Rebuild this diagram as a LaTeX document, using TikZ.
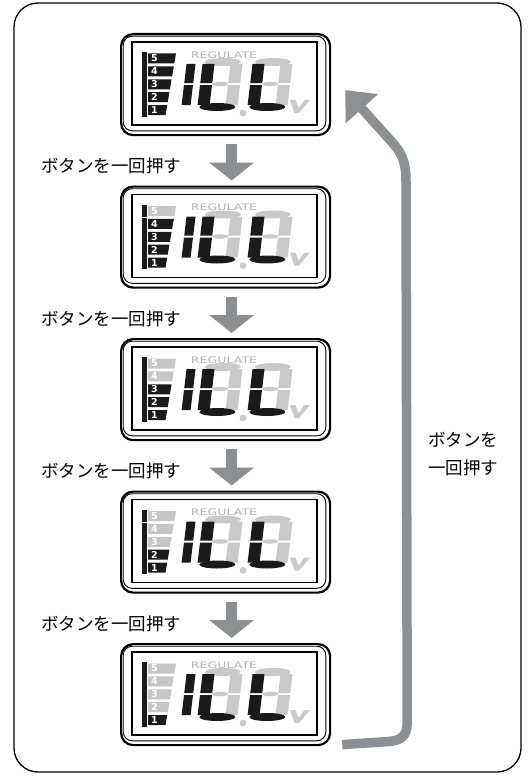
\documentclass[tikz,border=0pt]{standalone}
\usepackage{fontspec}
\setmainfont{DejaVu Sans}
\newfontfamily\jp{Noto Sans CJK JP}
\usetikzlibrary{arrows.meta,calc}
\definecolor{arrgray}{HTML}{8E8F93}
\definecolor{segoff}{HTML}{C9C9C9}
\definecolor{segon}{HTML}{1A1A1A}
\definecolor{boxoff}{HTML}{C6C6C6}
\definecolor{reggray}{HTML}{B3B3B3}
\tikzset{
  lcdframe/.style={draw, line width=2.2pt, rounded corners=12pt, minimum width=209pt,
    minimum height=101pt, inner sep=0pt, anchor=north west},
  stepword/.style={font=\jp\fontsize{17.5}{28}\selectfont, inner sep=0pt},
  downarr/.style={arrgray, line width=11pt, -{Triangle[width=44pt,length=18pt]},
    shorten <=8pt, shorten >=5pt},
  retarr/.style={arrgray, line width=9.5pt, -{Triangle[width=42pt,length=25pt]}},
  lvlnum/.style={font=\bfseries\fontsize{9.5}{10}\selectfont, text=white, inner sep=0pt},
  regtext/.style={font=\fontsize{9}{9}\selectfont, text=reggray, inner sep=0pt},
}
\newcommand\lcdunit[4]{%
  \node[lcdframe] (#1) at (#2,#3) {};
  \begin{scope}[shift={(#2,#3)}]
    \draw[line width=0.9pt, rounded corners=9pt] (3.2,3.2) rectangle (205.8,97.8);
    \draw[line width=1.3pt] (12,9) rectangle (197,92);
    \foreach \k in {1,...,5}{
      \pgfmathsetmacro\t{20.5+(5-\k)*12.9}
      \pgfmathsetmacro\b{\t+10}
      \pgfmathsetmacro\rt{56-(\t-20.5)*0.17}
      \pgfmathsetmacro\rb{56-(\b-20.5)*0.17}
      \ifnum\k>#4 \def\bc{boxoff}\else\def\bc{segon}\fi
      \fill[segon] (22,\t-1.4) rectangle (26.5,\b+1.4);
      \fill[\bc] (28,\t) -- (\rt,\t) -- (\rb,\b) -- (28,\b) -- cycle;
      \node[lvlnum] (#1-l\k) at (34.5,\t+5) {\k};
    }
    \node[regtext] (#1-reg) at (104,22) {\scalebox{1.4}[1]{REGULATE}};
    \begin{scope}[shift={(61,77)}, y=1pt, xslant=0.12]
      \fill[segon] (0,27) rectangle (9,46);
      \fill[segon] (0,5) rectangle (9,25);
    \end{scope}
    \foreach \dx in {77,127}{
      \begin{scope}[shift={(\dx,77)}, y=1pt, xslant=0.12]
        \fill[segoff] (20,48) ellipse [x radius=18pt, y radius=4pt];
        \fill[segoff] (28,27) rectangle (40,46);
        \fill[segoff] (28,5) rectangle (40,25);
        \fill[segoff] (20,26) ellipse [x radius=8pt, y radius=2.2pt];
        \fill[segon] (0,27) rectangle (12,46);
        \fill[segon] (0,5) rectangle (12,25);
        \fill[segon] (20,3) ellipse [x radius=18pt, y radius=4pt];
      \end{scope}
    }
    \fill[segoff] (123,80) circle [radius=3.4pt];
    \fill[segoff] (170,67) -- (175.5,67) -- (178.5,75) -- (184.5,67) -- (190,67)
      -- (179,80) -- (174.5,80) -- cycle;
  \end{scope}
}
\begin{document}
\begin{tikzpicture}[x=1pt, y=-1pt]
  \useasboundingbox (0,0) rectangle (528,776);
  \fill[white] (0,0) rectangle (528,776);
  \draw[line width=1.3pt, rounded corners=24pt] (14,3) rectangle (521,772);

  \lcdunit{d1}{120}{33}{5}
  \lcdunit{d2}{120}{185.5}{4}
  \lcdunit{d3}{120}{338}{3}
  \lcdunit{d4}{120}{490.5}{2}
  \lcdunit{d5}{120}{643}{1}

  \draw[downarr] ([xshift=6pt]d1.south) -- ([xshift=6pt]d2.north);
  \draw[downarr] ([xshift=6pt]d2.south) -- ([xshift=6pt]d3.north);
  \draw[downarr] ([xshift=6pt]d3.south) -- ([xshift=6pt]d4.north);
  \draw[downarr] ([xshift=6pt]d4.south) -- ([xshift=6pt]d5.north);

  \node[stepword] (t1) at (111,166) {ボタンを一回押す};
  \node[stepword] (t2) at (111,319) {ボタンを一回押す};
  \node[stepword] (t3) at (111,471) {ボタンを一回押す};
  \node[stepword] (t4) at (111,624) {ボタンを一回押す};
  \node[stepword, align=left] (t5) at (463,454) {ボタンを\\一回押す};

  \draw[retarr] ($(d5.east)+(11,50)$) -- ++(45,-3)
    .. controls +(19,-1) and +(0,12) .. ++(20,-22)
    -- (406,182) .. controls (406,160) and (401,152) .. (391,141)
    -- ($(d1.east)+(14,5.5)$);
\end{tikzpicture}
\end{document}
